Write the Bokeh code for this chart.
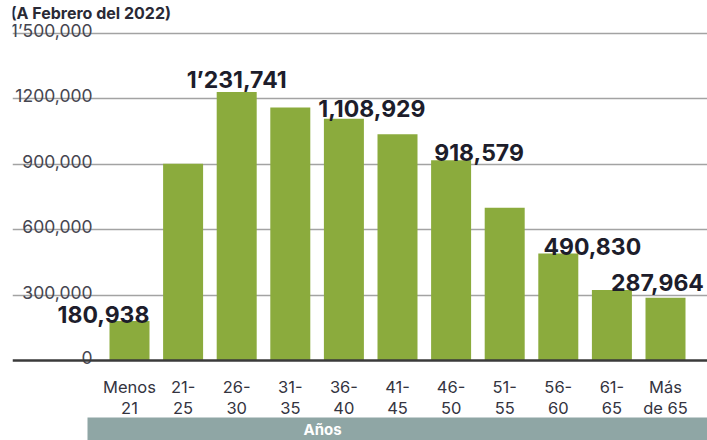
from bokeh.plotting import figure
from bokeh.models import Range1d, FixedTicker, ColumnDataSource, Label, BoxAnnotation
from bokeh.core.properties import value
from bokeh.embed import file_html
from bokeh.resources import INLINE

# ---- data ----
categories = ["Menos\n21", "21-\n25", "26-\n30", "31-\n35", "36-\n40", "41-\n45",
              "46-\n50", "51-\n55", "56-\n60", "61-\n65", "Más\nde 65"]
counts = [180938, 903000, 1231741, 1160000, 1108929, 1038000,
          918579, 701000, 490830, 323000, 287964]
value_labels = ["180,938", "", "1’231,741", "", "1,108,929", "",
                "918,579", "", "490,830", "", "287,964"]
y_ticks = [0, 300000, 600000, 900000, 1200000, 1500000]
y_tick_labels = ["0", "300,000", "600,000", "900,000", "1200,000", "1’500,000"]
band_text = "Años"
subtitle = "(A Febrero del 2022)"

# ---- styling / layout (pixels) ----
label_dx = [-26, 0, 0, 0, 28, 0, 28, 0, 34, 0, -8]
label_dy = [-7, 0, -12, 0, -10, 0, -8, 0, -7, 0, -15]

FONT = "Inter"
BAR = "#8bab3d"
W, H = 707, 440
PX_PER_UNIT = 65.4 / 300000.0     # vertical scale
BAR_STEP = 53.6                   # px between bar centres
FRAME_LEFT = 12                   # px
FIRST_CENTER = 129                # px
BASE_Y = 360                      # px of the zero line
BAND_TOP, BAND_LEFT = 417, 87

def x_of(px):
    return (px - FIRST_CENTER) / BAR_STEP

def y_of(py):
    return (BASE_Y - py) / PX_PER_UNIT

idx = list(range(len(categories)))

p = figure(width=W, height=H,
           x_range=Range1d(x_of(FRAME_LEFT), x_of(W)),
           y_range=Range1d(y_of(H), y_of(0)),
           output_backend="svg", toolbar_location=None,
           y_axis_location=None,
           min_border_left=FRAME_LEFT, min_border_right=0, min_border_top=0,
           min_border_bottom=0)
p.outline_line_color = None
p.background_fill_color = "white"
p.border_fill_color = "white"

# grid
p.xgrid.visible = False
p.ygrid.ticker = FixedTicker(ticks=y_ticks[1:])
p.ygrid.grid_line_color = "#a3a3a3"
p.ygrid.grid_line_width = 1.6

# bars
src = ColumnDataSource(dict(x=idx, top=counts))
p.vbar(x="x", top="top", width=40 / BAR_STEP, source=src, fill_color=BAR, line_color=None)

# x axis (category labels) sitting on the zero line
xa = p.xaxis[0]
xa.fixed_location = 0
xa.ticker = FixedTicker(ticks=idx, minor_ticks=[])
xa.major_label_overrides = {i: c for i, c in zip(idx, categories)}
xa.axis_line_color = "#3a3a3a"
xa.axis_line_width = 2.5
xa.major_tick_line_color = None
xa.minor_tick_line_color = None
xa.major_label_standoff = 10
xa.major_label_text_font = FONT
xa.major_label_text_font_size = "16.5px"
xa.major_label_text_font_style = "normal"
xa.major_label_text_color = "#34343f"
xa.major_label_text_line_height = 1.05

# y tick labels, right aligned, sitting on the grid lines
ysrc = ColumnDataSource(dict(x=[p.x_range.start] * len(y_ticks), y=y_ticks, t=y_tick_labels))
p.text(x="x", y="y", text="t", source=ysrc, x_offset=80, y_offset=-3,
       text_align="right", text_baseline="alphabetic",
       text_font=value(FONT), text_font_size="17.5px", text_color="#45454f")

# value labels
lab_x = [i for i, t in zip(idx, value_labels) if t]
lab_y = [c for c, t in zip(counts, value_labels) if t]
lab_t = [t for t in value_labels if t]
lab_dx = [d for d, t in zip(label_dx, value_labels) if t]
lab_dy = [d for d, t in zip(label_dy, value_labels) if t]
vsrc = ColumnDataSource(dict(x=lab_x, y=lab_y, t=lab_t, dx=lab_dx, dy=lab_dy))
p.text(x="x", y="y", text="t", source=vsrc, x_offset="dx", y_offset="dy",
       text_align="center", text_baseline="alphabetic",
       text_font=value(FONT), text_font_style="bold", text_font_size="23px",
       text_color="#1d1d2b")

# subtitle at the very top
p.add_layout(Label(x=p.x_range.start, y=p.y_range.end, x_offset=-2, y_offset=-2,
                   text=subtitle, text_align="left", text_baseline="top",
                   text_color="#2a2a36", text_font=FONT, text_font_style="bold",
                   text_font_size="16px"))

# grey band with "Años"
p.add_layout(BoxAnnotation(left=x_of(BAND_LEFT), top=y_of(BAND_TOP),
                           fill_color="#8fa6a5", fill_alpha=1.0, line_color=None,
                           level="underlay"))
p.add_layout(Label(x=x_of(322), y=y_of((BAND_TOP + H) / 2), text=band_text,
                   text_align="center", text_baseline="middle", text_color="white",
                   text_font=FONT, text_font_style="bold", text_font_size="15px"))

open("out.html", "w").write(file_html(p, INLINE))
